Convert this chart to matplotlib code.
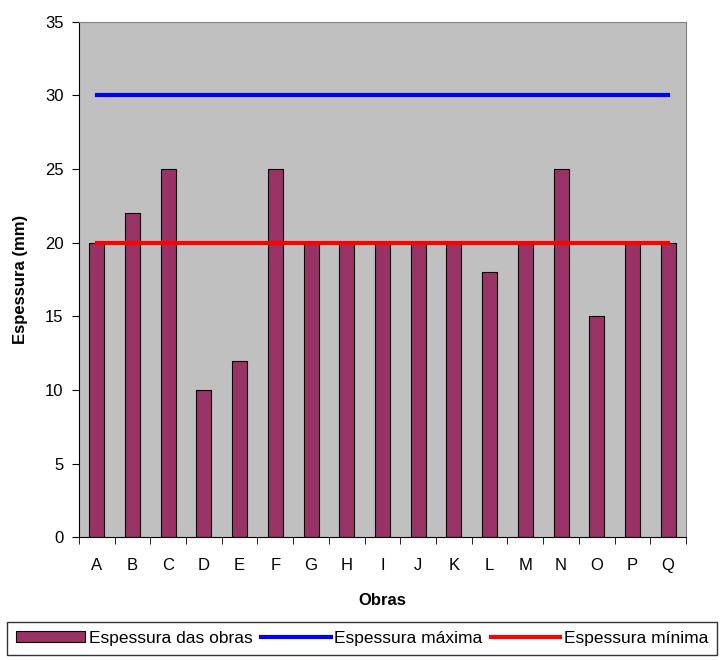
import numpy as np
import matplotlib.pyplot as plt

plt.rcParams['font.family'] = ['Liberation Sans', 'DejaVu Sans']

# data
obras = ['A', 'B', 'C', 'D', 'E', 'F', 'G', 'H', 'I', 'J', 'K', 'L', 'M', 'N', 'O', 'P', 'Q']
espessura = [20, 22, 25, 10, 12, 25, 20, 20, 20, 20, 20, 18, 20, 25, 15, 20, 20]
esp_max = [30] * len(obras)
esp_min = [20] * len(obras)

x = np.arange(len(obras))

fig = plt.figure(figsize=(7.24, 6.6), dpi=100)
ax = fig.add_axes([0.109, 0.186, 0.8385, 0.781])
ax.set_facecolor('#c0c0c0')

ax.bar(x, espessura, width=0.42, color='#993366', edgecolor='black',
       linewidth=0.8, label='Espessura das obras', zorder=2)
ax.plot(x, esp_max, color='#0000ff', linewidth=3, label='Espessura máxima', zorder=3)
ax.plot(x, esp_min, color='#ff0000', linewidth=3, label='Espessura mínima', zorder=3)

ax.set_xlim(-0.5, len(obras) - 0.5)
ax.set_ylim(0, 35)
ax.set_yticks(range(0, 36, 5))
ax.set_xticks(x)
ax.set_xticklabels(obras, fontsize=12)
ax.set_xticks(np.arange(-0.5, len(obras), 1), minor=True)
ax.tick_params(axis='x', which='major', length=0, pad=15)
ax.tick_params(axis='x', which='minor', length=5, direction='out')
ax.tick_params(axis='y', labelsize=12, length=5, direction='out', pad=6)

for s in ['top', 'right']:
    ax.spines[s].set_color('#808080')
ax.spines['left'].set_color('black')
ax.spines['bottom'].set_color('black')

ax.set_xlabel('Obras', fontsize=12, fontweight='bold', labelpad=14)
ax.set_ylabel('Espessura (mm)', fontsize=12, fontweight='bold', labelpad=12)

handles, labels = ax.get_legend_handles_labels()
order = [2, 0, 1]
leg = fig.legend([handles[i] for i in order], [labels[i] for i in order],
                 loc='lower center', bbox_to_anchor=(0.5, 0.003), ncol=3,
                 fontsize=12.5, frameon=True, fancybox=False, edgecolor='black',
                 handlelength=4.0, handleheight=0.6, handletextpad=0.2,
                 columnspacing=0.5, borderpad=0.5, borderaxespad=0.2)
leg.get_frame().set_linewidth(1)

fig.savefig('out.png', dpi=100)
